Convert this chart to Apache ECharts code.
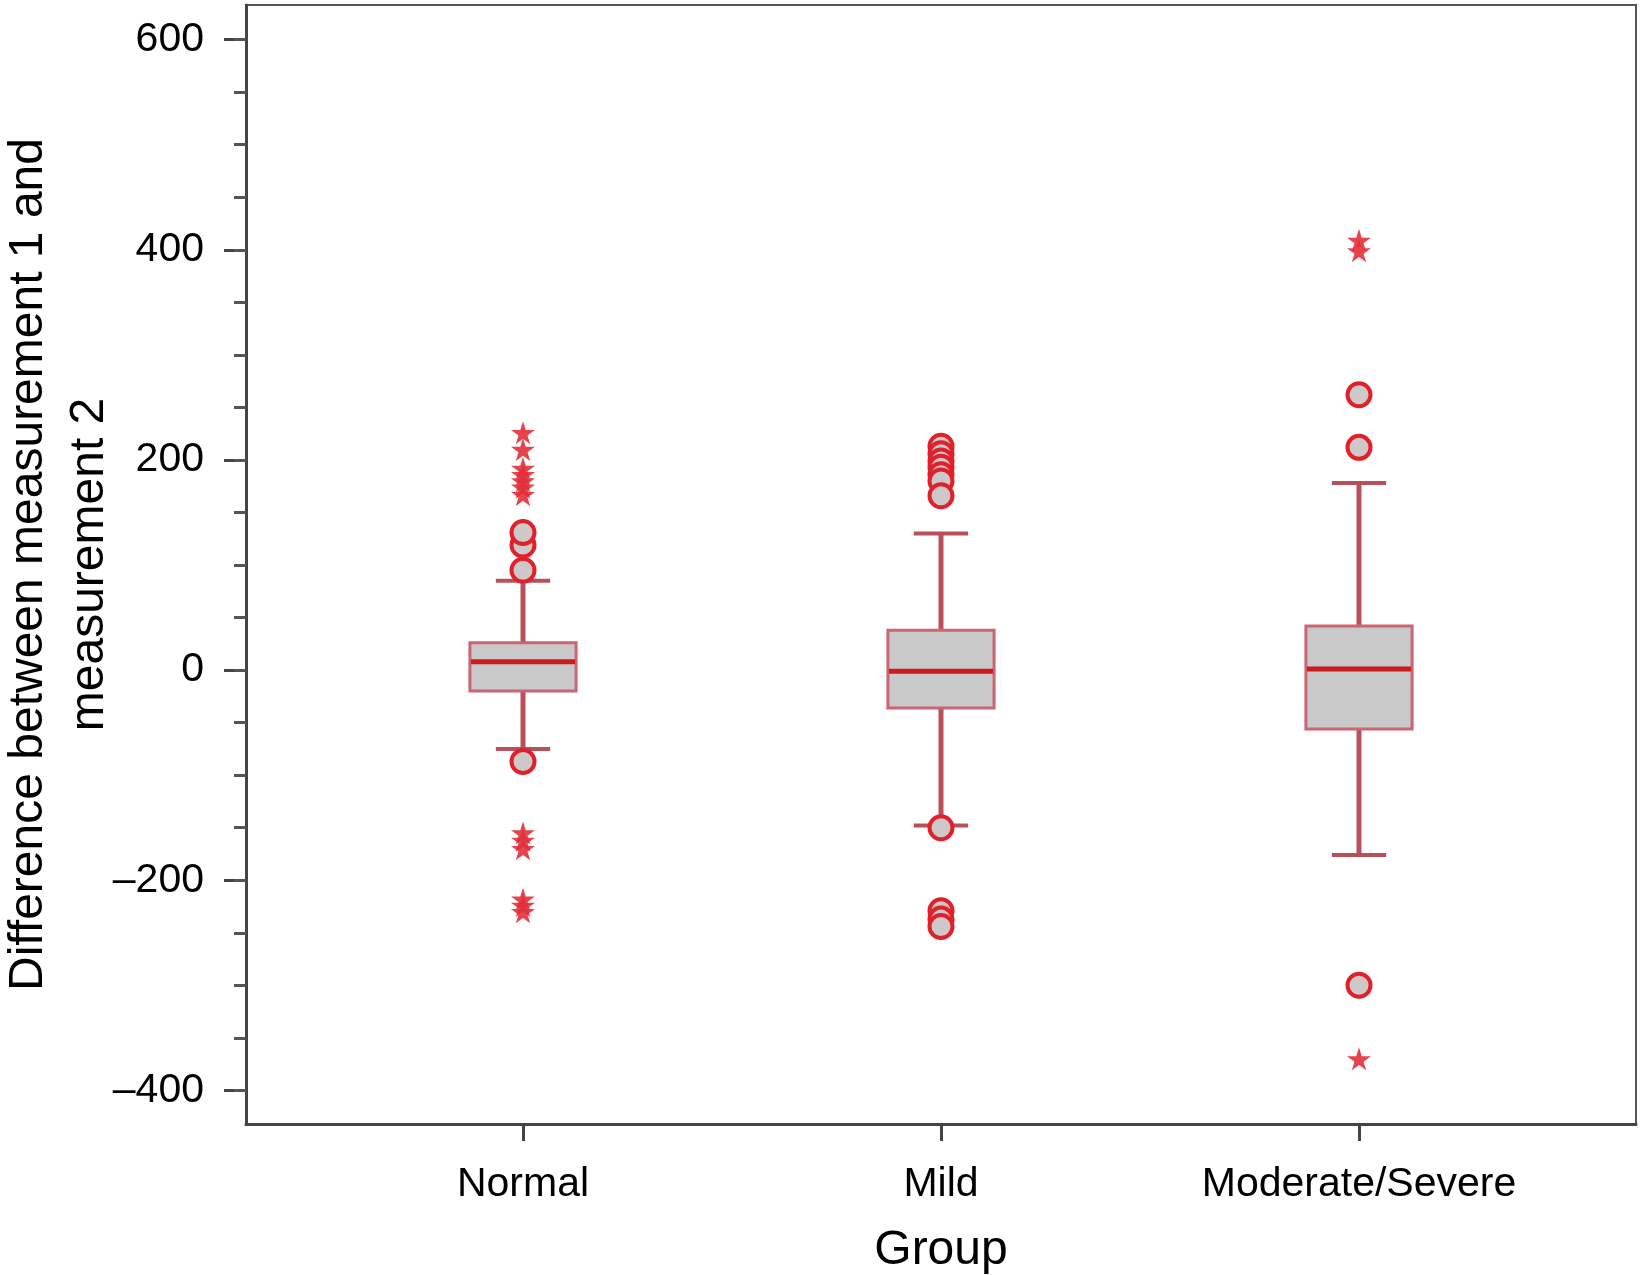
<!DOCTYPE html>
<html>
<head>
<meta charset="utf-8">
<script src="https://cdn.jsdelivr.net/npm/echarts@6/dist/echarts.min.js"></script>
<style>
html,body{margin:0;padding:0;background:#fff;}
#chart{width:1642px;height:1275px;}
</style>
</head>
<body>
<div id="chart"></div>
<script>
// ---- data ----
const categories = ['Normal', 'Mild', 'Moderate/Severe'];
const whiskerLow  = [-75, -148, -176];
const q1          = [-20, -36, -56];
const median      = [8, -1, 1];
const q3          = [26, 38, 42];
const whiskerHigh = [85, 130, 178];
// circles (outliers)
const circleOutliers = [
  [95, 119, 131, -87],
  [213, 206, 199, 193, 186, 180, 166, -150, -229, -237, -244],
  [262, 212, -300]
];
// stars (extremes)
const starExtremes = [
  [226, 210, 192, 186, 180, 174, 167, -155, -162, -170, -218, -224, -230],
  [],
  [409, 399, -370]
];
const majorTicks = [-400, -200, 0, 200, 400, 600];
const minorTicks = [-400, -350, -300, -250, -200, -150, -100, -50, 0, 50, 100, 150, 200, 250, 300, 350, 400, 450, 500, 550, 600];
const yMin = -432, yMax = 633;

// ---- build ----
const boxData = categories.map((c, i) => [i, whiskerLow[i], q1[i], median[i], q3[i], whiskerHigh[i]]);
const circleData = [];
circleOutliers.forEach((arr, i) => arr.forEach(v => circleData.push([i, v])));
const starData = [];
starExtremes.forEach((arr, i) => arr.forEach(v => starData.push([i, v])));

const FONT = '"Liberation Sans", Arial, Helvetica, sans-serif';
const starPath = 'path://M50,0 L61,35 L98,35 L68,57 L79,91 L50,70 L21,91 L32,57 L2,35 L39,35 Z';

const chart = echarts.init(document.getElementById('chart'), null, {renderer: 'canvas'});
chart.setOption({
  backgroundColor: '#fff',
  animation: false,
  grid: [
    {left: 246, right: 6, top: 5, bottom: 151, show: true, borderColor: '#555', borderWidth: 2,
     backgroundColor: 'transparent', outerBoundsMode: 'none', containLabel: false},
    {left: 314, right: 74, top: 5, bottom: 151, outerBoundsMode: 'none', containLabel: false}
  ],
  xAxis: [
    {
      gridIndex: 0, type: 'value', min: 0, max: 1, position: 'bottom',
      axisLine: {show: true, onZero: false, lineStyle: {color: '#444', width: 3}},
      axisTick: {show: false}, axisLabel: {show: false}, splitLine: {show: false},
      name: 'Group', nameLocation: 'middle', nameGap: 103, nameMoveOverlap: false,
      nameTextStyle: {fontFamily: FONT, fontSize: 48, color: '#000'}
    },
    {
      gridIndex: 1, type: 'category', data: categories, boundaryGap: true, position: 'bottom',
      axisLine: {show: false, onZero: false},
      axisTick: {show: true, alignWithLabel: true, length: 17, inside: false, lineStyle: {color: '#444', width: 3}},
      axisLabel: {fontFamily: FONT, fontSize: 41, color: '#000', margin: 40},
      splitLine: {show: false}
    }
  ],
  yAxis: [
    {
      gridIndex: 0, type: 'value', min: yMin, max: yMax, position: 'left',
      axisLine: {show: true, onZero: false, lineStyle: {color: '#444', width: 3}},
      axisTick: {show: true, customValues: majorTicks, length: 22, lineStyle: {color: '#444', width: 3}},
      axisLabel: {
        customValues: majorTicks, fontFamily: FONT, fontSize: 41, color: '#000', margin: 42,
        formatter: v => (v < 0 ? '\u2013' + Math.abs(v) : String(v))
      },
      splitLine: {show: false},
      name: 'Difference between measurement 1 and\nmeasurement 2',
      nameLocation: 'middle', nameGap: 126, nameMoveOverlap: false,
      nameTextStyle: {fontFamily: FONT, fontSize: 48, color: '#000', lineHeight: 61}
    },
    {
      gridIndex: 0, type: 'value', min: yMin, max: yMax, position: 'left',
      axisLine: {show: false, onZero: false},
      axisTick: {show: true, customValues: minorTicks, length: 12, lineStyle: {color: '#555', width: 3}},
      axisLabel: {show: false}, splitLine: {show: false}
    },
    {
      gridIndex: 1, type: 'value', min: yMin, max: yMax, show: false
    }
  ],
  series: [
    {
      type: 'custom', xAxisIndex: 1, yAxisIndex: 2, z: 2,
      data: boxData,
      encode: {x: 0, y: [1, 2, 3, 4, 5]},
      renderItem: function (params, api) {
        const idx = api.value(0);
        const lo = api.coord([idx, api.value(1)]);
        const b1 = api.coord([idx, api.value(2)]);
        const md = api.coord([idx, api.value(3)]);
        const b3 = api.coord([idx, api.value(4)]);
        const hi = api.coord([idx, api.value(5)]);
        const band = api.size([1, 0])[0];
        const bw = band * 0.254, cw = band * 0.13;
        const x = lo[0];
        const wc = '#b8505c';
        return {
          type: 'group',
          children: [
            {type: 'line', shape: {x1: x, y1: hi[1], x2: x, y2: b3[1]}, style: {stroke: wc, lineWidth: 5}},
            {type: 'line', shape: {x1: x, y1: b1[1], x2: x, y2: lo[1]}, style: {stroke: wc, lineWidth: 5}},
            {type: 'line', shape: {x1: x - cw / 2, y1: hi[1], x2: x + cw / 2, y2: hi[1]}, style: {stroke: wc, lineWidth: 4}},
            {type: 'line', shape: {x1: x - cw / 2, y1: lo[1], x2: x + cw / 2, y2: lo[1]}, style: {stroke: wc, lineWidth: 4}},
            {type: 'rect', shape: {x: x - bw / 2, y: b3[1], width: bw, height: b1[1] - b3[1]},
              style: {fill: '#c9c9ca', stroke: '#cc6472', lineWidth: 3}},
            {type: 'line', shape: {x1: x - bw / 2 + 1, y1: md[1], x2: x + bw / 2 - 1, y2: md[1]}, style: {stroke: '#cc1a1e', lineWidth: 5}}
          ]
        };
      }
    },
    {
      type: 'scatter', xAxisIndex: 1, yAxisIndex: 2, z: 3,
      data: circleData, symbol: 'circle', symbolSize: 23,
      itemStyle: {color: '#cfc8c8', borderColor: '#e0202a', borderWidth: 4, opacity: 1}
    },
    {
      type: 'scatter', xAxisIndex: 1, yAxisIndex: 2, z: 4,
      data: starData, symbol: starPath, symbolSize: [24, 23],
      itemStyle: {color: '#e2303a', opacity: 0.9}
    }
  ]
});
</script>
</body>
</html>
